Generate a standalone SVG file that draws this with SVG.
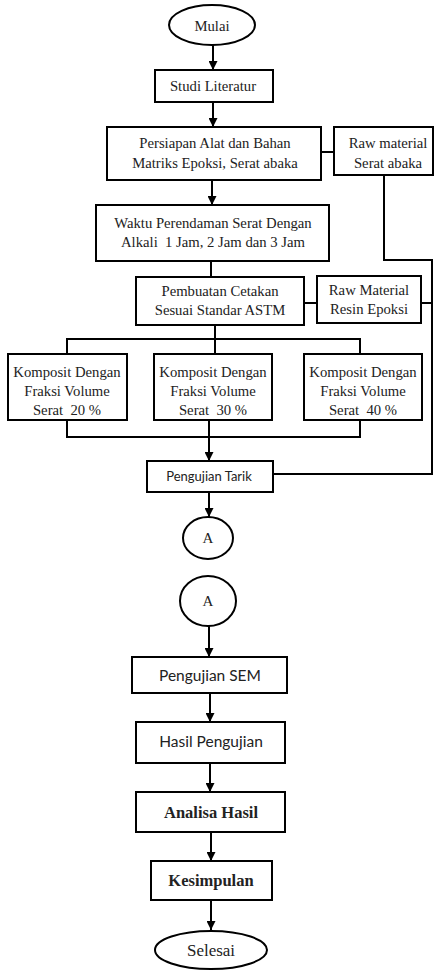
<svg xmlns="http://www.w3.org/2000/svg" width="436" height="972" viewBox="0 0 436 972">
<style>
.b{fill:#fff;stroke:#000;stroke-width:2}
.c{fill:none;stroke:#000;stroke-width:2}
.t{font-family:"Liberation Serif","Times New Roman",serif;font-size:14.7px;fill:#222;text-anchor:middle;white-space:pre}
.s{font-family:Lato,"Open Sans",sans-serif;font-size:15.5px;fill:#222;text-anchor:middle}
</style>
<defs>
<marker id="ah" viewBox="0 0 10 10" refX="10" refY="5" markerWidth="4.5" markerHeight="4.5" orient="auto" markerUnits="strokeWidth">
<path d="M0,0 L10,5 L0,10 z" fill="#000"/>
</marker>
</defs>
<rect width="436" height="972" fill="#fff"/>
<g id="connectors">
<path class="c" d="M213,45 V70" marker-end="url(#ah)"/>
<path class="c" d="M213,102 V127" marker-end="url(#ah)"/>
<path class="c" d="M212,180 V205" marker-end="url(#ah)"/>
<path class="c" d="M321,152 H334"/>
<path class="c" d="M384,175 V260 H432 V474 H273"/>
<path class="c" d="M211,261 V277"/>
<path class="c" d="M304,303 H317"/>
<path class="c" d="M421,303 H432"/>
<path class="c" d="M215,325 V339 M67,354 V339 H360 V354 M215,339 V354"/>
<path class="c" d="M67,420 V437 H360 V420"/>
<path class="c" d="M209,420 V461" marker-end="url(#ah)"/>
<path class="c" d="M209,492 V517" marker-end="url(#ah)"/>
<path class="c" d="M209,626 V657" marker-end="url(#ah)"/>
<path class="c" d="M210,693 V722" marker-end="url(#ah)"/>
<path class="c" d="M210,763 V792" marker-end="url(#ah)"/>
<path class="c" d="M211,832 V861" marker-end="url(#ah)"/>
<path class="c" d="M211,900 V930" marker-end="url(#ah)"/>
</g>
<g id="mulai"><ellipse class="b" cx="212" cy="25" rx="43" ry="20"/><text class="t" x="212" y="31">Mulai</text></g>
<g id="studi"><rect class="b" x="155" y="70" width="118" height="32"/><text class="t" x="213" y="91">Studi Literatur</text></g>
<g id="persiapan"><rect class="b" x="107" y="127" width="214" height="53"/><text class="t" x="215" y="148">Persiapan Alat dan Bahan</text><text class="t" x="215" y="168">Matriks Epoksi, Serat abaka</text></g>
<g id="raw1"><rect class="b" x="334" y="127" width="99" height="48"/><text class="t" x="388" y="148">Raw material</text><text class="t" x="388" y="168">Serat abaka</text></g>
<g id="waktu"><rect class="b" x="96" y="205" width="233" height="56"/><text class="t" x="213" y="228">Waktu Perendaman Serat Dengan</text><text class="t" x="213" y="247" xml:space="preserve">Alkali  1 Jam, 2 Jam dan 3 Jam</text></g>
<g id="pembuatan"><rect class="b" x="136" y="277" width="168" height="48"/><text class="t" x="220" y="296">Pembuatan Cetakan</text><text class="t" x="220" y="315">Sesuai Standar ASTM</text></g>
<g id="resin"><rect class="b" x="317" y="276" width="104" height="47"/><text class="t" x="369" y="295">Raw Material</text><text class="t" x="369" y="314">Resin Epoksi</text></g>
<g id="k20"><rect class="b" x="8" y="354" width="119" height="66"/><text class="t" x="67" y="377">Komposit Dengan</text><text class="t" x="67" y="396">Fraksi Volume</text><text class="t" x="67" y="415" xml:space="preserve">Serat  20 %</text></g>
<g id="k30"><rect class="b" x="154" y="354" width="118" height="66"/><text class="t" x="213" y="377">Komposit Dengan</text><text class="t" x="213" y="396">Fraksi Volume</text><text class="t" x="213" y="415" xml:space="preserve">Serat  30 %</text></g>
<g id="k40"><rect class="b" x="304" y="354" width="118" height="66"/><text class="t" x="363" y="377">Komposit Dengan</text><text class="t" x="363" y="396">Fraksi Volume</text><text class="t" x="363" y="415" xml:space="preserve">Serat  40 %</text></g>
<g id="tarik"><rect class="b" x="147" y="461" width="126" height="31"/><text class="s" x="209" y="481" style="font-size:13px">Pengujian Tarik</text></g>
<g id="a1"><ellipse class="b" cx="208" cy="538" rx="25" ry="21"/><text class="t" x="208" y="543" style="font-size:15px">A</text></g>
<g id="a2"><ellipse class="b" cx="208" cy="601" rx="28" ry="25"/><text class="t" x="208" y="606" style="font-size:15px">A</text></g>
<g id="sem"><rect class="b" x="132" y="657" width="155" height="36"/><text class="s" x="210" y="681">Pengujian SEM</text></g>
<g id="hasil"><rect class="b" x="136" y="722" width="149" height="41"/><text class="s" x="211" y="747">Hasil Pengujian</text></g>
<g id="analisa"><rect class="b" x="136" y="792" width="149" height="40"/><text class="t" x="211" y="818" style="font-size:16.5px;font-weight:bold">Analisa Hasil</text></g>
<g id="kesimpulan"><rect class="b" x="151" y="861" width="121" height="39"/><text class="t" x="211" y="886" style="font-size:16.5px;font-weight:bold">Kesimpulan</text></g>
<g id="selesai"><ellipse class="b" cx="211" cy="950" rx="56" ry="19"/><text class="t" x="211" y="956" style="font-size:17px">Selesai</text></g>
</svg>
